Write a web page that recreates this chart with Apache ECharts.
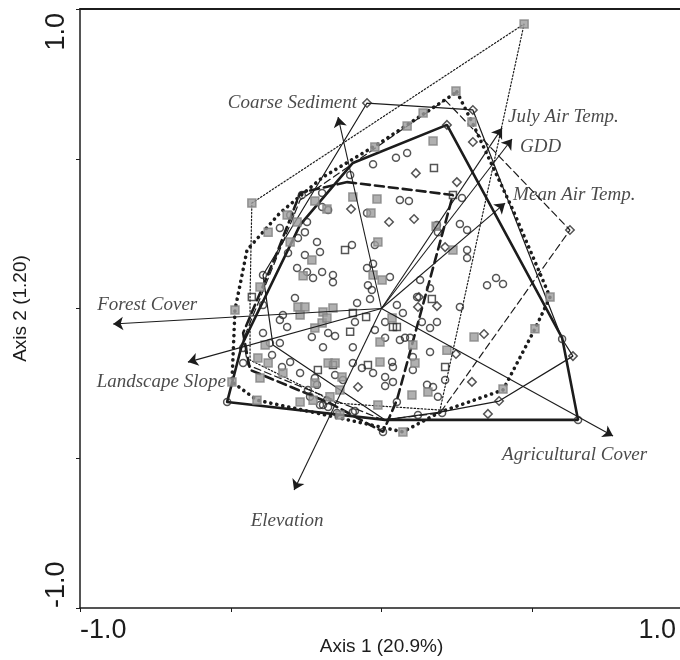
<!DOCTYPE html>
<html>
<head>
<meta charset="utf-8">
<script src="https://cdn.jsdelivr.net/npm/echarts@6/dist/echarts.min.js"></script>
<style>
  html, body { margin: 0; background: #fff; }
  #chart { width: 680px; height: 660px; }
</style>
</head>
<body>
<div id="chart"></div>
<script>
// axis range / ticks
var axisMin = -1, axisMax = 1, tickStep = 0.5;

// environmental vectors (arrow tips, ordination units)
var vectorNames = ["Forest Cover", "Landscape Slope", "Elevation", "Agricultural Cover",
                   "Mean Air Temp.", "GDD", "July Air Temp.", "Coarse Sediment"];
var vectorX = [-0.890, -0.642, -0.290, 0.768, 0.410, 0.433, 0.400, -0.144];
var vectorY = [-0.052, -0.179, -0.606, -0.426, 0.352, 0.566, 0.603, 0.639];

// site scores by group
var circles = [
  [0.048,0.503],[0.085,0.519],[-0.028,0.482],[-0.104,0.446],[0.061,0.362],[0.091,0.359],[-0.048,0.319],
  [-0.197,0.386],[-0.264,0.379],[-0.197,0.339],[-0.177,0.329],[-0.303,0.312],[-0.247,0.289],[-0.337,0.269],
  [-0.277,0.235],[-0.214,0.222],[-0.098,0.212],[-0.022,0.212],[-0.310,0.185],[-0.254,0.179],[-0.204,0.189],
  [-0.280,0.135],[-0.247,0.122],[-0.197,0.122],[-0.161,0.112],[-0.161,0.088],[-0.227,0.102],[-0.048,0.135],
  [-0.028,0.149],[0.028,0.105],[-0.393,0.112],[-0.287,0.035],[-0.393,0.012],[-0.327,-0.022],[-0.337,-0.038],
  [-0.313,-0.062],[-0.393,-0.082],[-0.231,-0.095],[-0.177,-0.082],[-0.154,-0.092],[-0.194,-0.129],[-0.370,-0.115],
  [-0.337,-0.115],[-0.459,-0.132],[-0.363,-0.155],[-0.303,-0.179],[-0.330,-0.195],[-0.459,-0.182],[-0.270,-0.215],
  [-0.221,-0.232],[-0.214,-0.255],[-0.244,-0.272],[-0.237,-0.295],[-0.181,-0.306],[-0.204,-0.322],[-0.177,-0.329],
  [-0.512,-0.312],[-0.045,0.078],[-0.032,0.062],[-0.038,0.032],[-0.081,0.018],[0.051,0.012],[0.118,0.038],
  [0.071,-0.015],[-0.088,-0.045],[-0.022,-0.072],[0.012,-0.045],[0.134,-0.045],[0.161,-0.065],[0.184,-0.045],
  [-0.095,-0.129],[0.012,-0.098],[0.061,-0.105],[0.078,-0.098],[0.095,-0.098],[0.161,-0.145],[-0.095,-0.182],
  [-0.065,-0.199],[0.035,-0.179],[0.038,-0.195],[-0.028,-0.215],[0.012,-0.229],[0.038,-0.245],[0.104,-0.162],
  [0.104,-0.205],[-0.154,-0.222],[-0.128,-0.239],[0.012,-0.259],[0.151,-0.255],[0.171,-0.262],[0.187,-0.295],
  [-0.194,-0.322],[0.051,-0.312],[-0.148,-0.349],[-0.095,-0.346],[0.005,-0.412],[0.184,0.279],[0.260,0.282],
  [0.284,0.262],[-0.254,0.255],[0.284,0.195],[0.284,0.169],[0.128,0.095],[0.161,0.068],[0.260,0.005],
  [0.211,-0.239],[0.187,0.255],[0.350,0.078],[0.380,0.102],[0.403,0.082],[0.599,-0.102],[0.652,-0.372],
  [-0.088,-0.342],[0.121,-0.356],[0.201,-0.349],[0.267,0.369]
];
var diamonds = [
  [-0.048,0.686],[0.217,0.613],[0.114,0.452],[0.250,0.422],[-0.101,0.332],[0.025,0.289],[0.108,0.299],
  [0.211,0.205],[0.121,0.005],[0.124,0.038],[0.184,0.008],[0.247,-0.152],[0.340,-0.085],[-0.078,-0.262],
  [0.300,-0.245],[0.390,-0.309],[0.353,-0.352],[0.625,0.262],[0.635,-0.159],[0.303,0.663],[0.303,0.556]
];
var greySquares = [
  [0.247,0.726],[0.138,0.653],[0.085,0.609],[-0.022,0.539],[0.171,0.559],[-0.095,0.372],[-0.015,0.366],
  [-0.035,0.319],[-0.221,0.359],[-0.181,0.332],[-0.430,0.352],[-0.313,0.312],[-0.280,0.289],[-0.376,0.255],
  [-0.303,0.222],[-0.012,0.222],[-0.231,0.162],[-0.260,0.109],[-0.403,0.072],[-0.486,-0.005],[-0.277,0.005],
  [-0.254,0.005],[-0.270,-0.022],[-0.194,-0.012],[-0.161,0.002],[-0.197,-0.048],[-0.181,-0.032],[-0.221,-0.065],
  [-0.386,-0.122],[-0.410,-0.165],[-0.376,-0.182],[-0.177,-0.182],[-0.154,-0.182],[-0.327,-0.215],[-0.403,-0.232],
  [-0.496,-0.245],[-0.413,-0.306],[-0.270,-0.312],[-0.028,0.112],[0.002,0.095],[0.035,-0.032],[-0.005,-0.112],
  [0.104,-0.122],[-0.131,-0.229],[-0.138,-0.272],[0.101,-0.289],[-0.171,-0.295],[-0.012,-0.322],[-0.138,-0.356],
  [0.071,-0.412],[0.181,0.275],[0.237,0.195],[0.217,-0.139],[0.111,-0.182],[0.154,-0.279],[0.307,-0.095],
  [0.509,-0.068],[0.559,0.038],[0.403,-0.269],[0.300,0.623],[0.473,0.950],[-0.227,-0.306],[-0.221,-0.249],
  [-0.005,-0.179]
];
var openSquares = [
  [0.174,0.469],[0.237,0.379],[-0.121,0.195],[-0.430,0.038],[-0.095,-0.015],[-0.051,-0.028],[-0.104,-0.078],
  [0.038,-0.062],[0.051,-0.062],[-0.211,-0.205],[-0.161,-0.189],[-0.045,-0.189],[0.211,-0.195],[0.167,0.032]
];

// convex hulls (vertex order)
var hullFineDotted = [[-0.430,0.352],[0.473,0.950],[0.194,-0.339],[-0.148,-0.316],[-0.436,-0.172],[-0.436,0.038]];
var hullThinSolid = [[-0.048,0.686],[0.303,0.663],[0.599,-0.102],[0.635,-0.159],[0.390,-0.309],[0.194,-0.346],
                     [0.012,-0.372],[-0.360,-0.122],[-0.393,0.112]];
var hullThickSolid = [[-0.512,-0.312],[0.012,-0.372],[0.652,-0.372],[0.599,-0.098],[0.217,0.613],[-0.095,0.486],
                      [-0.270,0.279],[-0.463,-0.122]];
var hullThickDashed = [[-0.114,0.422],[0.237,0.379],[0.051,-0.306],[0.005,-0.412],[-0.171,-0.316],[-0.436,-0.205],
                       [-0.459,-0.082],[-0.347,0.185],[-0.270,0.386]];
var hullThickDotted = [[0.250,0.723],[0.300,0.623],[0.436,0.329],[0.559,0.038],[0.509,-0.068],[0.403,-0.272],
                       [0.194,-0.346],[0.071,-0.412],[-0.138,-0.366],[-0.413,-0.306],[-0.496,-0.245],[-0.486,-0.005],
                       [-0.446,0.195],[-0.337,0.319],[-0.194,0.439],[-0.005,0.553]];
var hullThinDashed = [[0.211,0.696],[0.625,0.262],[0.194,-0.349],[0.005,-0.372],[-0.443,-0.189],[-0.459,-0.105],
                      [-0.270,0.362]];

var ink = "#1c1c1c";

// label placement next to each arrow tip
var labelPlace = {
  "Forest Cover":       { align: "left",   offset: [-16, -19] },
  "Landscape Slope":    { align: "right",  offset: [38, 20] },
  "Elevation":          { align: "center", offset: [-7, 31] },
  "Agricultural Cover": { align: "left",   offset: [-111, 19] },
  "Mean Air Temp.":     { align: "left",   offset: [8, -8] },
  "GDD":                { align: "left",   offset: [8, 8] },
  "July Air Temp.":     { align: "left",   offset: [6, -11] },
  "Coarse Sediment":    { align: "right",  offset: [19, -14] }
};

function closed(pts) { return pts.concat([pts[0]]); }

function hull(pts, width, type) {
  return {
    type: "line", data: closed(pts), showSymbol: false, silent: true, z: 2,
    lineStyle: { color: ink, width: width, type: type, cap: "round" }
  };
}

function pointSeries(pts, symbol, size, fill, border, rot) {
  return {
    type: "scatter", data: pts, symbol: symbol, symbolSize: size, symbolRotate: rot || 0, z: 3,
    itemStyle: { color: fill, borderColor: border, borderWidth: 1.5 }
  };
}

// only the end ticks carry a label; the max one is nudged inwards
function endLabel(v) {
  if (v === axisMin) return "{lo|" + v.toFixed(1) + "}";
  if (v === axisMax) return "{hi|" + v.toFixed(1) + "}";
  return "";
}

var arrowData = vectorNames.map(function (n, i) {
  return { coords: [[0, 0], [vectorX[i], vectorY[i]]] };
});
var labelData = vectorNames.map(function (n, i) {
  var p = labelPlace[n];
  return {
    name: n, value: [vectorX[i], vectorY[i]],
    label: { show: true, formatter: n, position: "inside", align: p.align, verticalAlign: "middle", offset: p.offset }
  };
});

var tickFont = { fontFamily: "Liberation Sans", fontSize: 27, color: ink };

var chart = echarts.init(document.getElementById("chart"));
chart.setOption({
  animation: false,
  backgroundColor: "#fff",
  grid: { left: 80, top: 9, width: 603, height: 599, outerBoundsMode: "none", containLabel: false },
  xAxis: [{
    type: "value", min: axisMin, max: axisMax, interval: tickStep,
    name: "Axis 1 (20.9%)", nameLocation: "middle", nameGap: 29, nameMoveOverlap: false,
    nameTextStyle: { fontFamily: "Liberation Sans", fontSize: 19, color: ink },
    splitLine: { show: false },
    axisLine: { onZero: false, lineStyle: { color: ink, width: 1.5 } },
    axisTick: { length: 4, lineStyle: { color: ink } },
    axisLabel: {
      margin: 9, alignMinLabel: "left", alignMaxLabel: "right", formatter: endLabel,
      rich: { lo: tickFont, hi: Object.assign({ padding: [0, 7, 0, 0] }, tickFont) }
    }
  }, {
    type: "value", position: "top", min: axisMin, max: axisMax,
    axisLine: { onZero: false, lineStyle: { color: ink, width: 2 } },
    axisTick: { show: false }, axisLabel: { show: false }, splitLine: { show: false }
  }],
  yAxis: [{
    type: "value", min: axisMin, max: axisMax, interval: tickStep,
    name: "Axis 2 (1.20)", nameLocation: "middle", nameGap: 50, nameRotate: 90, nameMoveOverlap: false,
    nameTextStyle: { fontFamily: "Liberation Sans", fontSize: 19, color: ink },
    splitLine: { show: false },
    axisLine: { onZero: false, lineStyle: { color: ink, width: 1.5 } },
    axisTick: { length: 4, lineStyle: { color: ink } },
    axisLabel: {
      margin: 10, rotate: 90, alignMinLabel: "left", alignMaxLabel: "right", formatter: endLabel,
      rich: { lo: tickFont, hi: Object.assign({ padding: [0, 4, 0, 0] }, tickFont) }
    }
  }, {
    type: "value", position: "right", min: axisMin, max: axisMax,
    axisLine: { onZero: false, lineStyle: { color: ink, width: 1.5 } },
    axisTick: { show: false }, axisLabel: { show: false }, splitLine: { show: false }
  }],
  series: [
    hull(hullFineDotted, 1.2, [1.5, 2]),
    hull(hullThinSolid, 1.2, "solid"),
    hull(hullThickSolid, 2.6, "solid"),
    hull(hullThickDashed, 2.6, [9, 5]),
    hull(hullThickDotted, 3.6, [0.1, 6]),
    hull(hullThinDashed, 1.2, [7, 4]),
    pointSeries(circles, "circle", 7, "rgba(255,255,255,0)", "#2a2a2a"),
    pointSeries(diamonds, "rect", 6, "rgba(255,255,255,0)", "#2a2a2a", 45),
    pointSeries(openSquares, "rect", 7, "rgba(255,255,255,0)", "#2a2a2a"),
    pointSeries(greySquares, "rect", 8, "#9c9c9c", "#828282"),
    {
      type: "lines", coordinateSystem: "cartesian2d", z: 4, silent: true,
      symbol: ["none", "arrow"], symbolSize: 10,
      lineStyle: { color: ink, width: 1.1, opacity: 1 },
      data: arrowData
    },
    {
      type: "scatter", z: 5, symbolSize: 1, silent: true,
      itemStyle: { color: "rgba(0,0,0,0)" },
      label: { fontFamily: "Liberation Serif", fontStyle: "italic", fontSize: 19, color: ink },
      data: labelData
    }
  ]
});
</script>
</body>
</html>
